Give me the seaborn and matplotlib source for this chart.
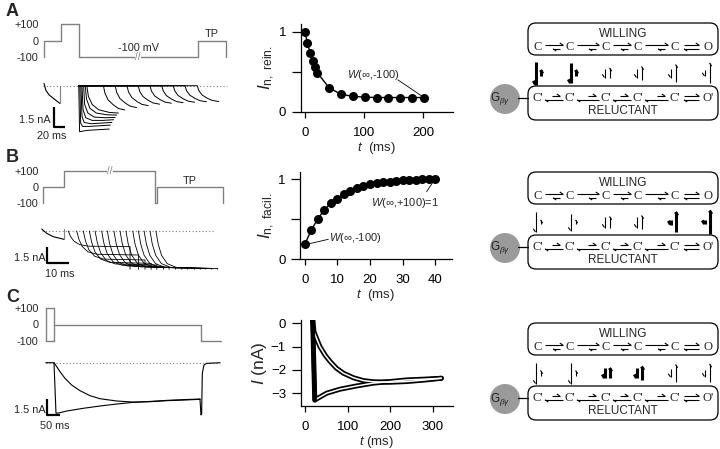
import matplotlib
matplotlib.use('Agg')
import matplotlib.pyplot as plt
import seaborn as sns
from matplotlib.patches import FancyBboxPatch, Circle

sns.set_style('white')
plt.rcParams['font.family'] = ['Liberation Sans', 'DejaVu Sans']
plt.rcParams['mathtext.fontset'] = 'custom'
plt.rcParams['mathtext.rm'] = 'Liberation Sans'
plt.rcParams['mathtext.it'] = 'Liberation Sans:italic'

# ---------------- data ----------------
# A left: protocol (ms, mV) and currents (ms, nA)
protoA_t = [0, 0, 31, 31, 65, 65, 287, 287, 340, 340]
protoA_v = [-100, 0, 0, 100, 100, -100, -100, 0, 0, -100]
preA_t = [0, 3.3, 9.5, 18.9, 29.5]
preA_i = [0.18, -0.32, -0.69, -0.99, -1.32]
earlyA_t = [[65, 66.5, 80, 100, 122],
            [67, 68.5, 72, 85, 105, 124],
            [69, 71, 75, 88, 108, 127],
            [71, 73, 78, 90, 110, 130],
            [74, 76, 82, 94, 114, 133],
            [77, 79.5, 86, 98, 118, 136],
            [80, 83, 90, 102, 122, 139]]
earlyA_i = [[0, -3.45, -3.35, -3.3, -3.25],
            [0, -2.8, -3.05, -3.05, -3.0, -2.95],
            [0, -2.3, -2.75, -2.85, -2.8, -2.75],
            [0, -1.8, -2.4, -2.6, -2.6, -2.55],
            [0, -1.4, -2.05, -2.35, -2.4, -2.38],
            [0, -1.0, -1.7, -2.05, -2.18, -2.2],
            [0, -0.8, -1.4, -1.8, -2.0, -2.05]]
lateA_onset = [111, 133, 155, 176, 198, 220, 241.5, 263.5, 286.5]
lateA_shape_t = [0, 3, 9, 19, 28, 40]
lateA_shape_i = [0, -0.57, -1.07, -1.45, -1.7, -1.82]
lateA_scale = [1.0, 0.9, 0.82, 0.76, 0.72, 0.7, 0.68, 0.66, 0.65]

# A middle: reinhibition
tA = [0, 4, 9, 13, 17, 21, 41, 61, 81, 101, 121, 141, 161, 181, 201]
yA = [1.0, 0.855, 0.73, 0.63, 0.555, 0.485, 0.30, 0.22, 0.195, 0.185,
      0.18, 0.18, 0.18, 0.18, 0.18]

# B left
protoB_t = [0, 0, 9.1, 9.1, 49.2, 49.2, 50.2, 50.2, 79, 79]
protoB_v = [-100, 0, 0, 100, 100, -100, -100, 0, 0, -100]
preB_t = [-0.7, 1.5, 4.4, 7.4, 9.1]
preB_i = [0.18, -0.21, -0.51, -0.66, -0.75]
onsetB = [11.0, 14.7, 17.6, 20.3, 22.8, 25.7, 28.2, 31.1, 33.8, 36.4,
          39.4, 41.9, 44.4, 47.0, 49.6]
levelB = [-1.41, -2.16, -2.61, -2.91, -3.06, -3.18, -3.25, -3.29, -3.32,
          -3.34, -3.35, -3.36, -3.37, -3.37, -3.38]
tpB_dur = 27.2
shapeB_t = [0, 1, 2.5, 5, 9]
shapeB_f = [0, 0.35, 0.65, 0.87, 0.97]
tailB_i = -3.45

# B middle: facilitation
tB = list(range(0, 41, 2))
yB = [0.19, 0.367, 0.51, 0.617, 0.708, 0.76, 0.817, 0.858, 0.888, 0.917,
      0.937, 0.95, 0.962, 0.97, 0.979, 0.987, 0.99, 0.996, 1.0, 1.0, 1.0]

# C left
protoC_t = [0, 0, 31, 31, 582, 582, 657]
protoC_v = [-100, 100, 100, 0, 0, -100, -100]
protoC2_t = [0, 31, 31]
protoC2_v = [-100, -100, 0]
upC_t = [0, 31.1, 41.2, 53.6, 72.3, 97.4, 128.5, 165.9, 203.4, 265.9, 328.1,
         390.6, 453.2, 515.4, 577.9]
upC_i = [0, 0, -0.38, -0.86, -1.5, -2.14, -2.68, -3.16, -3.45, -3.67, -3.77,
         -3.74, -3.64, -3.58, -3.51]
loC_t = [31.1, 38.6, 53.6, 78.6, 140.8, 203.4, 265.9, 328.1, 390.6, 453.2,
         515.4, 577.9]
loC_i = [0, -4.85, -4.79, -4.63, -4.37, -4.15, -3.96, -3.8, -3.71, -3.61,
         -3.54, -3.48]
tailC_t = [577.9, 581.6, 584.1, 586.6, 592.9, 603, 652.8]
tailC_i = [-3.48, -5.0, -4.9, -1.02, -0.22, -0.06, 0]

# C middle: model currents
upM_t = [18, 21, 27, 35, 47, 59, 74, 90, 114, 137, 160, 200, 239, 278, 320]
upM_i = [0.2, -0.36, -0.64, -1.0, -1.36, -1.64, -1.93, -2.14, -2.34, -2.46,
         -2.51, -2.53, -2.5, -2.44, -2.36]
loM_t = [18, 23, 26, 51, 82, 121, 160, 200, 239, 278, 320]
loM_i = [0.2, -3.3, -3.26, -3.0, -2.83, -2.69, -2.57, -2.5, -2.43, -2.4, -2.36]

# kinetic scheme: vertical arrow lengths (W->R down, R->W up) and bold pairs
schemes = {
    'A': dict(down=[23, 20, 9, 9, 9, 6], up=[6, 6, 10, 13, 17, 20],
              bold=[1, 1, 0, 0, 0, 0]),
    'B': dict(down=[20, 17, 11, 11, 5, 4], up=[4, 4, 11, 13, 20, 23],
              bold=[0, 0, 0, 0, 1, 1]),
    'C': dict(down=[21, 21, 10, 10, 8, 7], up=[5, 5, 10, 13, 17, 18],
              bold=[0, 0, 1, 1, 0, 0]),
}

# ---------------- figure ----------------
W, H = 720, 449
fig = plt.figure(figsize=(7.2, 4.49), dpi=100)
GRAY = '#808080'


def px_axes(l, t, r, b):
    return fig.add_axes([l / W, 1 - b / H, (r - l) / W, (b - t) / H])


ov = fig.add_axes([0, 0, 1, 1])
ov.set_xlim(0, W)
ov.set_ylim(H, 0)
ov.axis('off')


def proto_axes(t, b, xlim, ylim, pt, pv, extra=None):
    ax = px_axes(40, t, 232, b)
    ax.plot(pt, pv, color=GRAY, lw=1)
    if extra is not None:
        ax.plot(extra[0], extra[1], color=GRAY, lw=1)
    ax.set_xlim(*xlim)
    ax.set_ylim(*ylim)
    ax.set_yticks([-100, 0, 100])
    ax.set_yticklabels(['-100', '0', '+100'])
    ax.set_xticks([])
    ax.tick_params(axis='y', length=0, pad=1, labelsize=7.8)
    for s in ax.spines.values():
        s.set_visible(False)
    ax.patch.set_alpha(0)
    return ax


def cur_axes(t, b, xlim, ylim, base):
    ax = px_axes(40, t, 232, b)
    ax.plot(base, [0, 0], color=GRAY, lw=0.8, ls=(0, (1, 2)))
    ax.set_xlim(*xlim)
    ax.set_ylim(*ylim)
    ax.axis('off')
    return ax


def scalebar(ax, x0, y0, dx, dy, lab_i, lab_t, ipos, tpos):
    ax.plot([x0, x0, x0 + dx], [y0 + dy, y0, y0], color='k', lw=1.6,
            clip_on=False, solid_capstyle='butt')
    ax.text(ipos[0], ipos[1], lab_i, ha='right', va='center', fontsize=7.8)
    ax.text(tpos[0], tpos[1], lab_t, ha='center', va='center', fontsize=7.8)


# ---- A left
xlA = (-7.48, 351.4)
pa = proto_axes(20, 62, xlA, (-128.5, 126), protoA_t, protoA_v)
pa.text(176, -100, '//', ha='center', va='center', fontsize=7, color=GRAY,
        bbox=dict(fc='white', ec='none', pad=0.2))
pa.text(176, -45, '-100 mV', ha='center', va='center', fontsize=7.8)
pa.text(314, 8, 'TP', ha='center', va='bottom', fontsize=7.8)
ca = cur_axes(80, 140, xlA, (-4.07, 0.43), [-1.9, 342])
ca.plot(preA_t, preA_i, color='k', lw=0.8)
ca.plot([preA_t[-1], preA_t[-1]], [preA_i[-1], 0], color=GRAY, lw=0.8)
for tt, ii in zip(earlyA_t, earlyA_i):
    ca.plot(tt, ii, color='k', lw=0.7)
for on, sc in zip(lateA_onset, lateA_scale):
    ca.plot([65] + [on + r for r in lateA_shape_t],
            [0] + [sc * v for v in lateA_shape_i], color='k', lw=0.7)
scalebar(ca, 19.3, -3.075, 20, 1.5, '1.5 nA', '20 ms', (13, -2.55), (14.4, -3.75))

# ---- B left
xlB = (-1.45, 83.1)
pb = proto_axes(165, 208, xlB, (-129, 135), protoB_t, protoB_v)
pb.text(29.4, 100, '//', ha='center', va='center', fontsize=7, color=GRAY,
        bbox=dict(fc='white', ec='none', pad=0.2))
pb.text(64.5, 8, 'TP', ha='center', va='bottom', fontsize=7.8)
cb = cur_axes(225, 280, xlB, (-4.41, 0.54), [-0.7, 75.6])
cb.plot(preB_t, preB_i, color='k', lw=0.8)
cb.plot([preB_t[-1], preB_t[-1]], [preB_i[-1], 0.18], color=GRAY, lw=0.8)
for on, lev in zip(onsetB, levelB):
    end = on + tpB_dur
    cb.plot([on + r for r in shapeB_t] + [end, end],
            [f * lev for f in shapeB_f] + [lev, tailB_i], color='k', lw=0.6)
scalebar(cb, 1.5, -2.91, 10, 1.5, '1.5 nA', '10 ms', (1.2, -2.43), (7.4, -3.9))

# ---- C left
xlC = (-21.3, 697.8)
pc = proto_axes(304, 345, xlC, (-126.5, 126.5), protoC_t, protoC_v,
                extra=(protoC2_t, protoC2_v))
cc = cur_axes(355, 425, xlC, (-5.97, 0.74), [0, 652.8])
cc.plot(upC_t, upC_i, color='k', lw=0.8)
cc.plot(loC_t, loC_i, color='k', lw=0.8)
cc.plot(tailC_t, tailC_i, color='k', lw=0.8)
scalebar(cc, 3.7, -5.01, 50, 1.53, '1.5 nA', '50 ms', (0, -4.53), (35, -6.1))


# ---- middle panels
def mid_axes(l, t, r, b):
    ax = px_axes(l, t, r, b)
    sns.despine(ax=ax)
    ax.tick_params(direction='out', width=0.9, labelsize=9.5, colors='k',
                   bottom=True, left=True)
    ax.tick_params(axis='x', length=4, pad=6.5)
    ax.tick_params(axis='y', length=6.5, pad=4)
    for s in ('left', 'bottom'):
        ax.spines[s].set_linewidth(0.9)
        ax.spines[s].set_color('k')
    ax.patch.set_alpha(0)
    return ax


ma = mid_axes(300.7, 24, 453, 112)
sns.lineplot(x=tA, y=yA, ax=ma, color='k', lw=1, marker='o', markersize=6.5,
             markeredgewidth=0, clip_on=False)
ma.set_xlim(-7.3, 250)
ma.set_ylim(0, 1.096)
ma.set_xticks([0, 100, 200])
ma.set_yticks([0, 0.5, 1])
ma.set_yticklabels(['0', '', '1'])
ma.set_xlabel(r'$t$  (ms)', fontsize=9.5, labelpad=1)
ma.set_ylabel(r'$I_{\rm n,\ rein.}$', fontsize=12.5, labelpad=1)
ma.text(115, 0.46, r'$W$(∞,-100)', ha='center', va='center', fontsize=8)
ma.plot([157, 199], [0.4, 0.19], color='k', lw=0.6)

mb = mid_axes(300, 171.7, 451.7, 259.3)
sns.lineplot(x=tB, y=yB, ax=mb, color='k', lw=1, marker='o', markersize=6.5,
             markeredgewidth=0, clip_on=False)
mb.set_xlim(-1.5, 45.1)
mb.set_ylim(0, 1.095)
mb.set_xticks([0, 10, 20, 30, 40])
mb.set_yticks([0, 0.5, 1])
mb.set_yticklabels(['0', '', '1'])
mb.set_xlabel(r'$t$  (ms)', fontsize=9.5, labelpad=1)
mb.set_ylabel(r'$I_{\rm n,\ facil.}$', fontsize=12.5, labelpad=1)
mb.text(30.8, 0.70, r'$W$(∞,+100)=1', ha='center', va='center', fontsize=8)
mb.plot([37.4, 39.2], [0.845, 0.957], color='k', lw=0.6)
mb.text(15.4, 0.266, r'$W$(∞,-100)', ha='center', va='center', fontsize=8)
mb.plot([0.83, 7.2], [0.19, 0.25], color='k', lw=0.6)

mc = mid_axes(300.7, 320, 453.3, 406)
for col, lw in (('k', 3.6), ('white', 1.1)):
    sns.lineplot(x=upM_t, y=upM_i, ax=mc, color=col, lw=lw, sort=False)
    sns.lineplot(x=loM_t, y=loM_i, ax=mc, color=col, lw=lw, sort=False)
mc.plot(loM_t[:2], loM_i[:2], color='k', lw=3)
mc.set_xlim(-10, 348)
mc.set_ylim(-3.55, 0.14)
mc.set_xticks([0, 100, 200, 300])
mc.set_yticks([0, -1, -2, -3])
mc.set_xlabel(r'$t$ (ms)', fontsize=9.5, labelpad=1)
mc.set_ylabel(r'$I$ (nA)', fontsize=12.5, labelpad=1)

# ---- panel letters
for lab, y in (('A', 11), ('B', 157), ('C', 297)):
    ov.text(6, y, lab, fontsize=13, fontweight='bold', ha='left', va='center')


# ---- kinetic schemes
def harpoon(x0, y0, x1, y1, lw, side=1, color='k'):
    dx, dy = x1 - x0, y1 - y0
    n = (dx ** 2 + dy ** 2) ** 0.5
    ux, uy = dx / n, dy / n
    nx, ny = -uy * side, ux * side
    bl = 3.2 if lw < 1.5 else 3.6
    ov.plot([x0, x1], [y0, y1], color=color, lw=lw, solid_capstyle='butt')
    ov.plot([x1, x1 - bl * ux + 2.2 * nx], [y1, y1 - bl * uy + 2.2 * ny],
            color=color, lw=lw, solid_capstyle='butt')


stateX = [538, 570, 606, 638, 675, 708]
pairX = [538, 573, 607, 639, 673, 707]
serif = ['Liberation Serif', 'DejaVu Serif']
for key, y0 in (('A', 23), ('B', 172), ('C', 323)):
    sc = schemes[key]
    for yt, yb in ((y0, y0 + 32), (y0 + 63, y0 + 97)):
        ov.add_patch(FancyBboxPatch((528, yt), 190, yb - yt,
                                    boxstyle='round,pad=0,rounding_size=8',
                                    fc='white', ec='k', lw=0.9))
    ov.text(623, y0 + 11, 'WILLING', ha='center', va='center', fontsize=8.5)
    ov.text(623, y0 + 88, 'RELUCTANT', ha='center', va='center', fontsize=8.5)
    ys, yr = y0 + 24, y0 + 75
    for i, x in enumerate(stateX):
        s = 'O' if i == 5 else 'C'
        ov.text(x, ys, s, ha='center', va='center', fontsize=9, family=serif)
        ov.text(x, yr, s + "'", ha='center', va='center', fontsize=9,
                family=serif)
    for i in range(5):
        a, b = stateX[i] + 7, stateX[i + 1] - 7
        if i < 4:
            harpoon(a, ys - 1.8, b, ys - 1.8, 0.8, side=-1)
            harpoon(b - 3, ys + 1.8, b - 10, ys + 1.8, 0.8, side=-1)
            harpoon(b - 11, yr - 1.8, b - 3, yr - 1.8, 0.8, side=-1)
            harpoon(b, yr + 1.8, a, yr + 1.8, 0.8, side=-1)
        else:
            harpoon(a + 2, ys - 1.8, b - 2, ys - 1.8, 0.8, side=-1)
            harpoon(b - 2, ys + 1.8, a + 2, ys + 1.8, 0.8, side=-1)
            harpoon(a + 2, yr - 1.8, b - 2, yr - 1.8, 0.8, side=-1)
            harpoon(b - 2, yr + 1.8, a + 2, yr + 1.8, 0.8, side=-1)
    yc = y0 + 50
    for x, dl, ul, bd in zip(pairX, sc['down'], sc['up'], sc['bold']):
        lw = 2.2 if bd else 0.8
        harpoon(x - 2.5, yc - dl / 2, x - 2.5, yc + dl / 2, lw, side=1)
        harpoon(x + 2.5, yc + ul / 2, x + 2.5, yc - ul / 2, lw, side=1)
    ov.plot([518, 528], [yr, yr], color='k', lw=0.9)
    ov.add_patch(Circle((505, yr + 1), 15, fc='#9a9a9a', ec='none'))
    ov.text(500, yr + 1, r'G$_{\beta\gamma}$', ha='center', va='center',
            fontsize=8.5, color='#222222')

fig.savefig('out.png', dpi=100)
